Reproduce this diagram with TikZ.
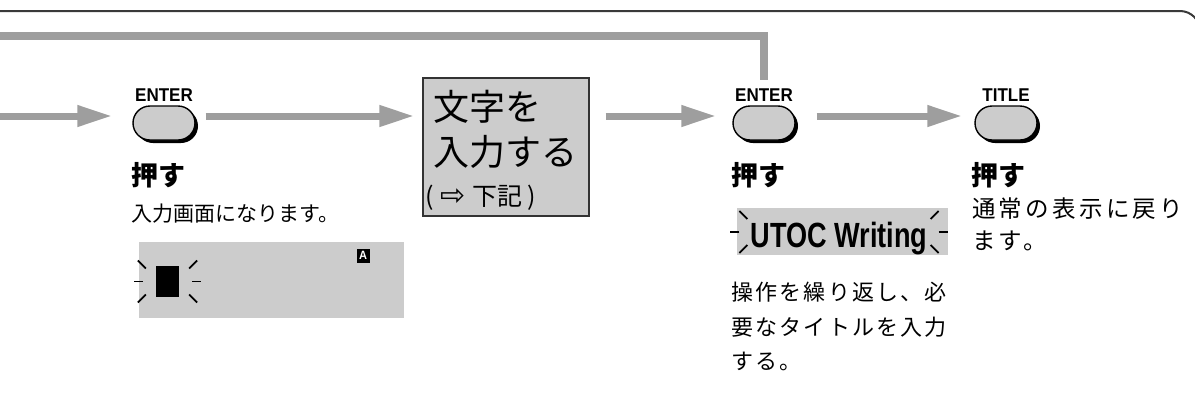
\documentclass[tikz,border=0pt]{standalone}
\usepackage{fontspec}
\usepackage{tikz}
\usetikzlibrary{arrows.meta,positioning,shadows}
\newfontfamily\jpfont{Noto Sans CJK JP}
\newfontfamily\keyfont[FakeStretch=0.92]{Liberation Sans}
\newfontfamily\utocfont[FakeStretch=0.775]{Liberation Sans}
\newfontfamily\symfont{DejaVu Sans}
\definecolor{KeyGray}{HTML}{CCCCCC}
\definecolor{FlowGray}{HTML}{9E9E9E}
\definecolor{FrameInk}{HTML}{3A3A3A}

\begin{document}
\begin{tikzpicture}[x=1pt,y=-1pt,
    key/.style={rectangle,rounded corners=17pt,minimum width=62pt,minimum height=34pt,
                draw=black,line width=1.4pt,fill=KeyGray,inner sep=0pt,
                drop shadow={shadow xshift=3pt,shadow yshift=-3pt,fill=black,opacity=1}},
    keylbl/.style={inner sep=0pt,font=\keyfont\bfseries\fontsize{18.5}{18.5}\selectfont},
    press/.style={inner sep=0pt,anchor=north west,font=\jpfont\bfseries\fontsize{27}{27}\selectfont},
    note/.style={inner sep=0pt,anchor=north west,align=left},
    panel/.style={fill=KeyGray,inner sep=0pt},
    flow/.style={-{Triangle[length=35pt,width=20pt]},line width=7pt,FlowGray},
    ray/.style={line width=1.8pt,black}]
  \useasboundingbox (0,0) rectangle (1195,413);
  \draw[FrameInk,line width=2pt,rounded corners=20pt] (0,11) -- (1200,11) -- (1200,430);

  % keys and the input box
  \node[key] (enterA) at (164,123) {};
  \node[keylbl,above=4pt of enterA] (enterAlbl) {ENTER};
  \node[panel,draw=black!80,line width=1.2pt,minimum width=166pt,minimum height=138pt] (inbox) at (506,147) {};
  \node[note,font=\jpfont\fontsize{36}{45}\selectfont] (intext) at (433,90) {文字を\\入力する};
  \node[note,anchor=south west,font=\jpfont\fontsize{25}{25}\selectfont] (innote) at (425,211)
    {(\hspace{7pt}{\symfont\fontsize{30}{30}\selectfont ⇨}\hspace{7pt}下記\hspace{5pt})};
  \node[key] (enterB) at (764,123) {};
  \node[keylbl,above=4pt of enterB] (enterBlbl) {ENTER};
  \node[key] (titleK) at (1006,123) {};
  \node[keylbl,above=4pt of titleK] (titleKlbl) {TITLE};

  % flow
  \coordinate (lead) at (0,116);
  \coordinate (loop) at (0,36);
  \draw[flow,shorten >=20pt] (lead) -- (lead -| enterA.west);
  \draw[flow,shorten <=10pt,shorten >=8pt] (lead -| enterA.east) -- (lead -| inbox.west);
  \draw[flow,shorten <=16pt,shorten >=16pt] (lead -| inbox.east) -- (lead -| enterB.west);
  \draw[flow,shorten <=21pt,shorten >=12pt] (lead -| enterB.east) -- (lead -| titleK.west);
  \draw[FlowGray,line width=8pt,shorten >=8pt] (loop) -| (enterBlbl.north);

  % first step
  \node[press] (pressA) at (131,162) {押す};
  \node[note,font=\jpfont\fontsize{21}{21}\selectfont] (hintA) at (131,204) {入力画面になります。};
  \node[panel,minimum width=265pt,minimum height=76pt] (screen) at (271.5,280) {};
  \node[fill=black,minimum width=23pt,minimum height=31pt,inner sep=0pt] (cursor) at (167.5,281.5) {};
  \node[fill=black,text=white,minimum width=13pt,minimum height=14pt,inner sep=0pt,
        font=\keyfont\bfseries\fontsize{12}{12}\selectfont] (modeA) at (363,255.5) {A};

  % second and third step
  \node[press] (pressB) at (731,162) {押す};
  \node[panel,minimum width=211pt,minimum height=47pt] (utocbox) at (842.5,231.5) {};
  \node[inner sep=0pt,text height=30pt,text depth=0pt,
        font=\utocfont\bfseries\fontsize{35}{35}\selectfont] (utoc) at (839,232) {UTOC Writing};
  \node[note,font=\jpfont\fontsize{22}{34.5}\selectfont\addfontfeature{LetterSpace=10}] (repeat) at (731,282)
    {操作を繰り返し、必\\要なタイトルを入力\\する。};
  \node[press] (pressC) at (971,162) {押す};
  \node[note,font=\jpfont\fontsize{23.5}{32}\selectfont\addfontfeature{LetterSpace=14}] (backnote) at (972,198)
    {通常の表示に戻り\\ます。};

  % blinking marks
  \foreach \n/\hg/\dg in {cursor/13/10,utoc/11/3}{
    \draw[ray] ([xshift=-\hg pt]\n.west) -- ++(-9pt,0pt);
    \draw[ray] ([xshift=-\dg pt,yshift=13pt]\n.west) -- ++(-8pt,8pt);
    \draw[ray] ([xshift=-\dg pt,yshift=-13pt]\n.west) -- ++(-8pt,-8pt);
    \draw[ray] ([xshift=\hg pt]\n.east) -- ++(9pt,0pt);
    \draw[ray] ([xshift=\dg pt,yshift=13pt]\n.east) -- ++(8pt,8pt);
    \draw[ray] ([xshift=\dg pt,yshift=-13pt]\n.east) -- ++(8pt,-8pt);
  }
\end{tikzpicture}
\end{document}
